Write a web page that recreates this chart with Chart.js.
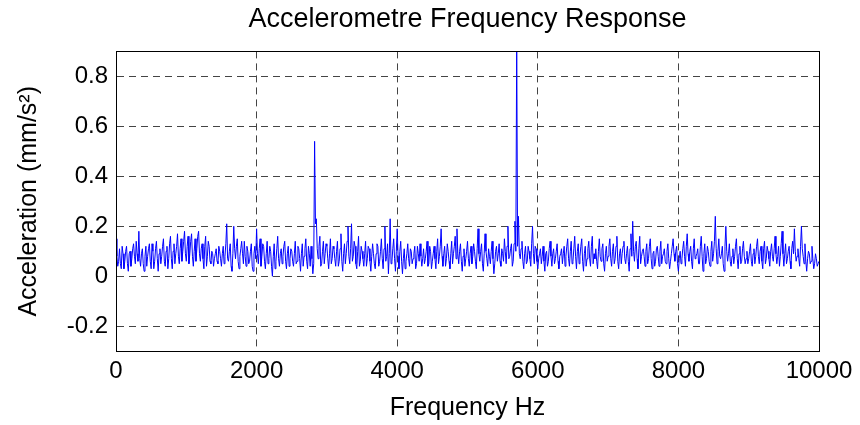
<!DOCTYPE html>
<html>
<head>
<meta charset="utf-8">
<script src="https://cdn.jsdelivr.net/npm/chart.js@4"></script>
<style>
  html, body { margin: 0; padding: 0; background: #fff; }
  #wrap { width: 860px; height: 425px; }
</style>
</head>
<body>
<div id="wrap"><canvas id="myChart" width="860" height="425"></canvas></div>
<script>
// frequency step of the read-off trace (Hz)
const freqStep = 25;
const xTicks = [0, 2000, 4000, 6000, 8000, 10000];
const yTicks = [-0.2, 0, 0.2, 0.4, 0.6, 0.8];

// acceleration (mm/s^2), every 25 Hz from 0 to 10000
const accel = [
  0.15, 0.04, 0.11, 0.03, 0.09, 0.06, 0.12, 0.02, 0.10, 0.07, 0.13, 0.05, 0.09, 0.18, 0.04, 0.11, 0.02, 0.12, 0.08, 0.13,
  0.03, 0.10, 0.06, 0.14, 0.02, 0.11, 0.08, 0.15, 0.04, 0.12, 0.07, 0.16, 0.03, 0.13, 0.09, 0.17, 0.05, 0.15, 0.10, 0.18,
  0.06, 0.16, 0.09, 0.17, 0.04, 0.15, 0.11, 0.18, 0.06, 0.13, 0.03, 0.16, 0.08, 0.12, 0.05, 0.09, 0.07, 0.11, 0.05, 0.10,
  0.04, 0.12, 0.08, 0.21, 0.06, 0.13, 0.02, 0.20, 0.07, 0.15, 0.03, 0.11, 0.09, 0.14, 0.04, 0.10, 0.06, 0.13, 0.02, 0.12,
  0.19, 0.05, 0.15, 0.08, 0.12, 0.03, 0.14, 0.07, 0.10, 0.00, 0.13, 0.06, 0.16, 0.04, 0.11, 0.08, 0.14, 0.03, 0.12, 0.07,
  0.10, 0.04, 0.14, 0.06, 0.11, 0.02, 0.13, 0.08, 0.15, 0.03, 0.09, 0.12, 0.01, 0.54, 0.23, 0.07, 0.16, 0.05, 0.14, 0.09,
  0.12, 0.03, 0.15, 0.07, 0.11, 0.04, 0.14, 0.06, 0.17, 0.02, 0.13, 0.09, 0.20, 0.05, 0.21, 0.08, 0.12, 0.03, 0.16, 0.06,
  0.10, 0.04, 0.14, 0.07, 0.11, 0.02, 0.13, 0.05, 0.09, 0.12, 0.06, 0.15, 0.03, 0.20, 0.08, 0.01, 0.23, 0.06, 0.15, 0.02,
  0.19, 0.03, 0.14, 0.01, 0.11, 0.06, 0.13, 0.04, 0.10, 0.07, 0.12, 0.05, 0.09, 0.13, 0.04, 0.11, 0.07, 0.14, 0.05, 0.10,
  0.06, 0.12, 0.03, 0.15, 0.08, 0.19, 0.04, 0.12, 0.07, 0.10, 0.03, 0.14, 0.09, 0.16, 0.19, 0.05, 0.13, 0.02, 0.11, 0.07,
  0.14, 0.04, 0.12, 0.08, 0.10, 0.03, 0.19, 0.06, 0.13, 0.02, 0.17, 0.07, 0.11, 0.05, 0.14, 0.01, 0.10, 0.06, 0.13, 0.04,
  0.09, 0.15, 0.05, 0.20, 0.08, 0.13, 0.06, 0.22, 0.95, 0.24, 0.07, 0.14, 0.03, 0.12, 0.06, 0.10, 0.04, 0.20, 0.05, 0.11,
  0.03, 0.09, 0.05, 0.12, 0.02, 0.10, 0.06, 0.14, 0.04, 0.11, 0.07, 0.13, 0.03, 0.09, 0.05, 0.12, 0.08, 0.15, 0.04, 0.14,
  0.06, 0.16, 0.03, 0.13, 0.08, 0.15, 0.02, 0.12, 0.07, 0.14, 0.04, 0.16, 0.09, 0.11, 0.03, 0.15, 0.06, 0.13, 0.02, 0.12,
  0.08, 0.15, 0.04, 0.13, 0.07, 0.16, 0.03, 0.11, 0.09, 0.14, 0.05, 0.12, 0.02, 0.17, 0.22, 0.06, 0.14, 0.03, 0.16, 0.08,
  0.11, 0.04, 0.13, 0.07, 0.15, 0.03, 0.10, 0.06, 0.12, 0.04, 0.14, 0.08, 0.11, 0.05, 0.13, 0.03, 0.09, 0.15, 0.06, 0.12,
  0.02, 0.10, 0.07, 0.14, 0.04, 0.17, 0.06, 0.12, 0.03, 0.15, 0.08, 0.11, 0.05, 0.16, 0.02, 0.13, 0.07, 0.10, 0.04, 0.14,
  0.09, 0.24, 0.05, 0.15, 0.07, 0.12, 0.02, 0.20, 0.06, 0.13, 0.04, 0.11, 0.08, 0.15, 0.03, 0.12, 0.06, 0.14, 0.05, 0.10,
  0.07, 0.13, 0.04, 0.11, 0.08, 0.15, 0.05, 0.12, 0.03, 0.14, 0.07, 0.10, 0.04, 0.13, 0.06, 0.16, 0.05, 0.12, 0.08, 0.18,
  0.04, 0.13, 0.07, 0.12, 0.03, 0.14, 0.19, 0.06, 0.11, 0.04, 0.20, 0.08, 0.13, 0.02, 0.10, 0.05, 0.12, 0.03, 0.09, 0.04,
  0.06
];

// readings half-way between the ones above (12.5 Hz, 37.5 Hz, ...)
const accelMid = [
  0.08, 0.06, 0.05, 0.12, 0.03, 0.10, 0.05, 0.09, 0.04, 0.11, 0.08, 0.14, 0.06, 0.07, 0.09, 0.05, 0.08, 0.04, 0.11, 0.06,
  0.13, 0.03, 0.11, 0.07, 0.09, 0.05, 0.12, 0.06, 0.10, 0.03, 0.13, 0.07, 0.10, 0.05, 0.12, 0.08, 0.11, 0.06, 0.14, 0.09,
  0.12, 0.05, 0.14, 0.08, 0.10, 0.06, 0.16, 0.09, 0.11, 0.07, 0.12, 0.04, 0.14, 0.06, 0.10, 0.04, 0.09, 0.06, 0.12, 0.07,
  0.09, 0.05, 0.13, 0.07, 0.10, 0.04, 0.09, 0.11, 0.12, 0.06, 0.08, 0.14, 0.05, 0.08, 0.12, 0.05, 0.10, 0.04, 0.09, 0.07,
  0.09, 0.11, 0.04, 0.13, 0.06, 0.09, 0.05, 0.12, 0.04, 0.08, 0.03, 0.11, 0.07, 0.09, 0.05, 0.12, 0.06, 0.09, 0.04, 0.11,
  0.06, 0.09, 0.05, 0.12, 0.07, 0.09, 0.04, 0.11, 0.06, 0.12, 0.04, 0.07, 0.05, 0.21, 0.11, 0.12, 0.04, 0.10, 0.05, 0.13,
  0.07, 0.09, 0.05, 0.12, 0.07, 0.10, 0.04, 0.11, 0.06, 0.09, 0.05, 0.14, 0.08, 0.11, 0.06, 0.14, 0.05, 0.10, 0.04, 0.12,
  0.07, 0.09, 0.04, 0.12, 0.06, 0.08, 0.09, 0.03, 0.13, 0.04, 0.10, 0.07, 0.11, 0.06, 0.13, 0.09, 0.05, 0.11, 0.07, 0.10,
  0.08, 0.10, 0.06, 0.07, 0.03, 0.09, 0.07, 0.11, 0.05, 0.09, 0.03, 0.12, 0.06, 0.08, 0.07, 0.05, 0.10, 0.04, 0.12, 0.03,
  0.09, 0.07, 0.10, 0.05, 0.12, 0.08, 0.09, 0.04, 0.13, 0.06, 0.09, 0.05, 0.12, 0.07, 0.09, 0.10, 0.06, 0.08, 0.04, 0.10,
  0.07, 0.09, 0.05, 0.13, 0.06, 0.11, 0.09, 0.10, 0.05, 0.09, 0.10, 0.04, 0.08, 0.10, 0.07, 0.05, 0.12, 0.09, 0.06, 0.11,
  0.06, 0.10, 0.12, 0.07, 0.11, 0.04, 0.13, 0.10, 0.12, 0.09, 0.11, 0.06, 0.09, 0.05, 0.12, 0.07, 0.13, 0.09, 0.12, 0.06,
  0.07, 0.11, 0.08, 0.06, 0.09, 0.04, 0.11, 0.08, 0.09, 0.05, 0.10, 0.06, 0.08, 0.11, 0.09, 0.04, 0.12, 0.07, 0.10, 0.05,
  0.11, 0.08, 0.10, 0.05, 0.12, 0.06, 0.09, 0.04, 0.11, 0.07, 0.12, 0.05, 0.07, 0.06, 0.10, 0.08, 0.11, 0.05, 0.09, 0.06,
  0.12, 0.07, 0.10, 0.05, 0.12, 0.06, 0.09, 0.05, 0.12, 0.07, 0.09, 0.06, 0.11, 0.08, 0.10, 0.12, 0.07, 0.11, 0.05, 0.10,
  0.08, 0.10, 0.05, 0.12, 0.07, 0.09, 0.04, 0.11, 0.08, 0.10, 0.05, 0.09, 0.06, 0.10, 0.07, 0.06, 0.12, 0.09, 0.10, 0.05,
  0.07, 0.05, 0.11, 0.08, 0.12, 0.09, 0.10, 0.06, 0.11, 0.07, 0.09, 0.05, 0.12, 0.08, 0.09, 0.05, 0.12, 0.06, 0.10, 0.06,
  0.14, 0.11, 0.10, 0.08, 0.09, 0.05, 0.12, 0.10, 0.09, 0.06, 0.08, 0.05, 0.12, 0.07, 0.09, 0.05, 0.11, 0.08, 0.07, 0.05,
  0.10, 0.06, 0.09, 0.05, 0.12, 0.08, 0.10, 0.06, 0.11, 0.05, 0.12, 0.07, 0.10, 0.08, 0.11, 0.09, 0.08, 0.04, 0.13, 0.09,
  0.09, 0.05, 0.10, 0.06, 0.11, 0.09, 0.10, 0.08, 0.07, 0.12, 0.11, 0.05, 0.06, 0.07, 0.09, 0.06, 0.07, 0.05, 0.07, 0.05
];

const points = [];
accel.forEach((v, i) => {
  points.push({ x: i * freqStep, y: v });
  if (i < accelMid.length) points.push({ x: i * freqStep + freqStep / 2, y: accelMid[i] });
});

// full box round the plot area, like the matlab axes
const boxPlugin = {
  id: "box",
  afterDraw(chart) {
    const a = chart.chartArea;
    const ctx = chart.ctx;
    ctx.save();
    ctx.strokeStyle = "#000";
    ctx.lineWidth = 1;
    ctx.strokeRect(Math.round(a.left) + 0.5, Math.round(a.top) + 0.5,
      Math.round(a.right - a.left), Math.round(a.bottom - a.top));
    ctx.restore();
  }
};

const font = "'Liberation Sans', Arial, sans-serif";

new Chart(document.querySelector("#myChart").getContext("2d"), {
  type: "line",
  data: {
    datasets: [{
      label: "Acceleration",
      data: points,
      borderColor: "#0000ff",
      borderWidth: 1,
      pointRadius: 0,
      tension: 0,
      fill: false
    }]
  },
  options: {
    responsive: false,
    animation: false,
    layout: { padding: { left: 0, right: 41, top: 0, bottom: 2 } },
    plugins: {
      legend: { display: false },
      tooltip: { enabled: false },
      title: {
        display: true,
        fullSize: false,
        text: "Accelerometre Frequency Response",
        color: "#000",
        font: { family: font, size: 27, weight: "normal" },
        padding: { top: 3, bottom: 16 }
      }
    },
    scales: {
      x: {
        type: "linear",
        min: 0,
        max: 10000,
        afterBuildTicks: s => { s.ticks = xTicks.map(v => ({ value: v })); },
        ticks: {
          color: "#000",
          font: { family: font, size: 24 },
          padding: 6,
          maxRotation: 0,
          callback: v => String(v)
        },
        grid: { color: "#444", lineWidth: 1, drawTicks: false },
        border: { display: true, color: "#000", dash: [7, 5] },
        title: {
          display: true,
          text: "Frequency Hz",
          color: "#000",
          font: { family: font, size: 25 },
          padding: { top: 1, bottom: 0 }
        }
      },
      y: {
        type: "linear",
        min: -0.3,
        max: 0.9,
        afterBuildTicks: s => { s.ticks = yTicks.map(v => ({ value: v })); },
        afterFit: s => { s.width = 116; },
        ticks: { color: "#000", font: { family: font, size: 24 }, padding: 8 },
        grid: { color: "#444", lineWidth: 1, drawTicks: false },
        border: { display: true, color: "#000", dash: [7, 5] },
        title: {
          display: true,
          text: "Acceleration (mm/s²)",
          color: "#000",
          font: { family: font, size: 25 },
          padding: { top: 14, bottom: 0 }
        }
      }
    }
  },
  plugins: [boxPlugin]
});
</script>
</body>
</html>
